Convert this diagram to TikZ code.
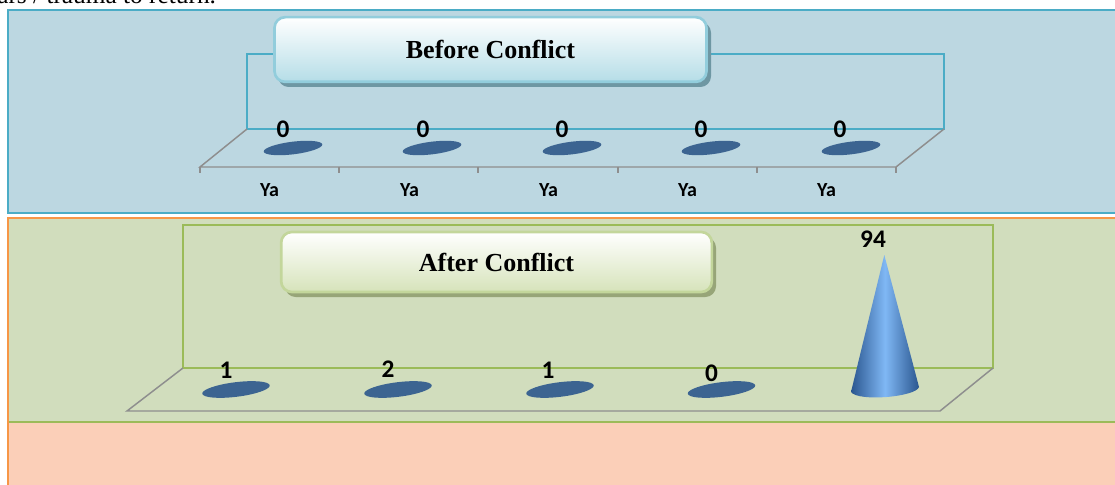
\documentclass[tikz,border=0pt]{standalone}
\usepackage{fontspec}
\setmainfont{Liberation Serif}
\newfontfamily\calfont{Carlito}
\usetikzlibrary{shapes.geometric}
\definecolor{topbg}{HTML}{BCD7E1}
\definecolor{topbd}{HTML}{4BACC6}
\definecolor{grnbg}{HTML}{D1DDBD}
\definecolor{grnbd}{HTML}{9BBB59}
\definecolor{orgbd}{HTML}{F79646}
\definecolor{peach}{HTML}{FBCFB8}
\definecolor{discc}{HTML}{3C6491}
\definecolor{floorln}{HTML}{8E8E8E}
\definecolor{boxAbd}{HTML}{92CDDC}
\definecolor{boxAbot}{HTML}{B5DDE7}
\definecolor{shadA}{HTML}{6E97A3}
\definecolor{boxBbd}{HTML}{C3D69B}
\definecolor{boxBbot}{HTML}{D6E3BA}
\definecolor{shadB}{HTML}{97A578}
\definecolor{conedark}{HTML}{2A568F}
\definecolor{conelight}{HTML}{80B8F5}
\tikzset{
  vallab/.style={font=\calfont\bfseries\fontsize{19}{22}\selectfont, inner sep=0pt},
  catlab/.style={font=\calfont\bfseries\fontsize{15}{17}\selectfont, inner sep=0pt},
  titlefont/.style={font=\bfseries\fontsize{19.5}{22}\selectfont},
  floorline/.style={draw=floorln, line width=1.1pt},
}
\begin{document}
\begin{tikzpicture}[x=0.75pt,y=-0.75pt]
\clip (0,0) rectangle (1115,485);
\useasboundingbox (0,0) rectangle (1115,485);
\fill[white] (0,0) rectangle (1115,485);
% cut-off text line at the top
\node[anchor=base west, inner sep=0pt, font=\fontsize{19}{22}\selectfont] (toptext) at (-3,4) {ars / trauma to return.};
% panels
\draw[topbd, line width=1.5pt, fill=topbg] (8,10) rectangle (1130,213);
\fill[peach] (8,218) rectangle (1130,495);
\fill[grnbg] (8,218) rectangle (1130,422);
\draw[grnbd, line width=1.6pt] (8,422) -- (1130,422);
\draw[orgbd, line width=1.9pt] (8,495) -- (8,218) -- (1130,218);
% ---------- top chart ----------
\draw[topbd, line width=0.9pt] (247,129) rectangle (944,54);
\draw[floorline] (247,129) -- (200,167) -- (896,167) -- (944,129);
\foreach \tx in {200,339,478,618,757,896} \draw[floorline] (\tx,167) -- (\tx,173);
\fill[shadA, rounded corners=8pt] (278,22) rectangle (711,87);
\node[titlefont, draw=boxAbd, line width=2pt, rounded corners=8pt, top color=white, bottom color=boxAbot,
      minimum width=324pt, minimum height=48.5pt, inner sep=0pt] (before) at (490.5,49.5) {Before Conflict};
\foreach \i/\cx/\lx/\yl in {1/293/283/Ya, 2/432/423/Ya, 3/572/562/Ya, 4/711/701/Ya, 5/851/840/Ya} {
  \fill[discc, rotate around={7:(\cx,148)}] (\cx,148) ellipse [x radius=29.5, y radius=6.3];
  \node[vallab] (va\i) at (\lx,129) {0};
  \node[catlab] (ca\i) at (\lx-13.5,190) {\yl};
}
% ---------- bottom chart ----------
\draw[grnbd, line width=1.1pt] (183,368) rectangle (993,225);
\draw[floorline] (183,368) -- (127,411) -- (940,411) -- (993,368);
\fill[shadB, rounded corners=8pt] (285,237) rectangle (716,297);
\node[titlefont, draw=boxBbd, line width=2pt, rounded corners=8pt, top color=white, bottom color=boxBbot,
      minimum width=323pt, minimum height=45pt, inner sep=0pt] (after) at (496.5,262) {After Conflict};
\foreach \i/\cx/\lx/\ly/\v in {1/236/226/370/1, 2/398/388/369/2, 3/560/548/370/1, 4/721.5/711.5/373/0} {
  \fill[discc, rotate around={7:(\cx,389.5)}] (\cx,389.5) ellipse [x radius=34, y radius=7.3];
  \node[vallab] (vb\i) at (\lx,\ly) {\v};
}
% cone
\shade[left color=conedark, right color=conedark, middle color=conelight]
  (884.3,255) -- (919,387) .. controls (916,397) and (858,402) .. (851,392) -- cycle;
\coordinate (coneapex) at (884.3,255);
\node[vallab] (vb5) at (873,239.5) {94};
\end{tikzpicture}
\end{document}
